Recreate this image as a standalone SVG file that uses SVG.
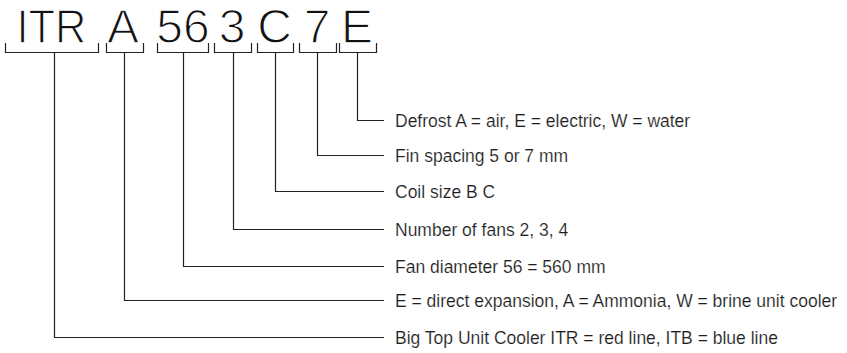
<svg xmlns="http://www.w3.org/2000/svg" width="847" height="353" viewBox="0 0 847 353">
<style>
.code{font-family:"Liberation Sans",Arial,sans-serif;font-size:48px;fill:#111;text-anchor:middle;stroke:#fff;stroke-width:1.3}
.lbl{font-family:"Liberation Sans",Arial,sans-serif;font-size:17.5px;fill:#1e1e1e;stroke:#fff;stroke-width:0.15}
.ln{fill:none;stroke:#222;stroke-width:1.2}
</style>
<rect width="847" height="353" fill="#fff"/>
<g id="code-ITR"><text class="code" x="51.5" y="43" textLength="70" lengthAdjust="spacingAndGlyphs">ITR</text><path class="ln" d="M5.5,43V52.5H98.5V43"/></g>
<g id="code-A"><text class="code" x="123" y="43">A</text><path class="ln" d="M106.5,43V52.5H143.5V43"/></g>
<g id="code-56"><text class="code" x="183" y="43">56</text><path class="ln" d="M157.5,43V52.5H208.5V43"/></g>
<g id="code-3"><text class="code" x="232" y="43">3</text><path class="ln" d="M214.5,43V52.5H251.5V43"/></g>
<g id="code-C"><text class="code" x="274.5" y="43">C</text><path class="ln" d="M257.5,43V52.5H293.5V43"/></g>
<g id="code-7"><text class="code" x="317" y="43">7</text><path class="ln" d="M299.5,43V52.5H336.5V43"/></g>
<g id="code-E"><text class="code" x="357" y="43">E</text><path class="ln" d="M339.5,43V52.5H376.5V43"/></g>
<g id="connectors">
<path class="ln" d="M357.5,52.5V120.5H384"/>
<path class="ln" d="M317.5,52.5V155.5H384"/>
<path class="ln" d="M275.5,52.5V191.5H384"/>
<path class="ln" d="M233.5,52.5V229.5H384"/>
<path class="ln" d="M183.5,52.5V266.5H384"/>
<path class="ln" d="M124.5,52.5V300.5H384"/>
<path class="ln" d="M54.5,52.5V337.5H384"/>
</g>
<g id="label-defrost"><text class="lbl" x="395" y="126.5">Defrost A = air, E = electric, W = water</text></g>
<g id="label-fin"><text class="lbl" x="395" y="161.5">Fin spacing 5 or 7 mm</text></g>
<g id="label-coil"><text class="lbl" x="395" y="197.5">Coil size B C</text></g>
<g id="label-fans"><text class="lbl" x="395" y="235.5">Number of fans 2, 3, 4</text></g>
<g id="label-diameter"><text class="lbl" x="395" y="272.5">Fan diameter 56 = 560 mm</text></g>
<g id="label-type"><text class="lbl" x="395" y="306.5">E = direct expansion, A = Ammonia, W = brine unit cooler</text></g>
<g id="label-series"><text class="lbl" x="395" y="343.5">Big Top Unit Cooler ITR = red line, ITB = blue line</text></g>
</svg>
